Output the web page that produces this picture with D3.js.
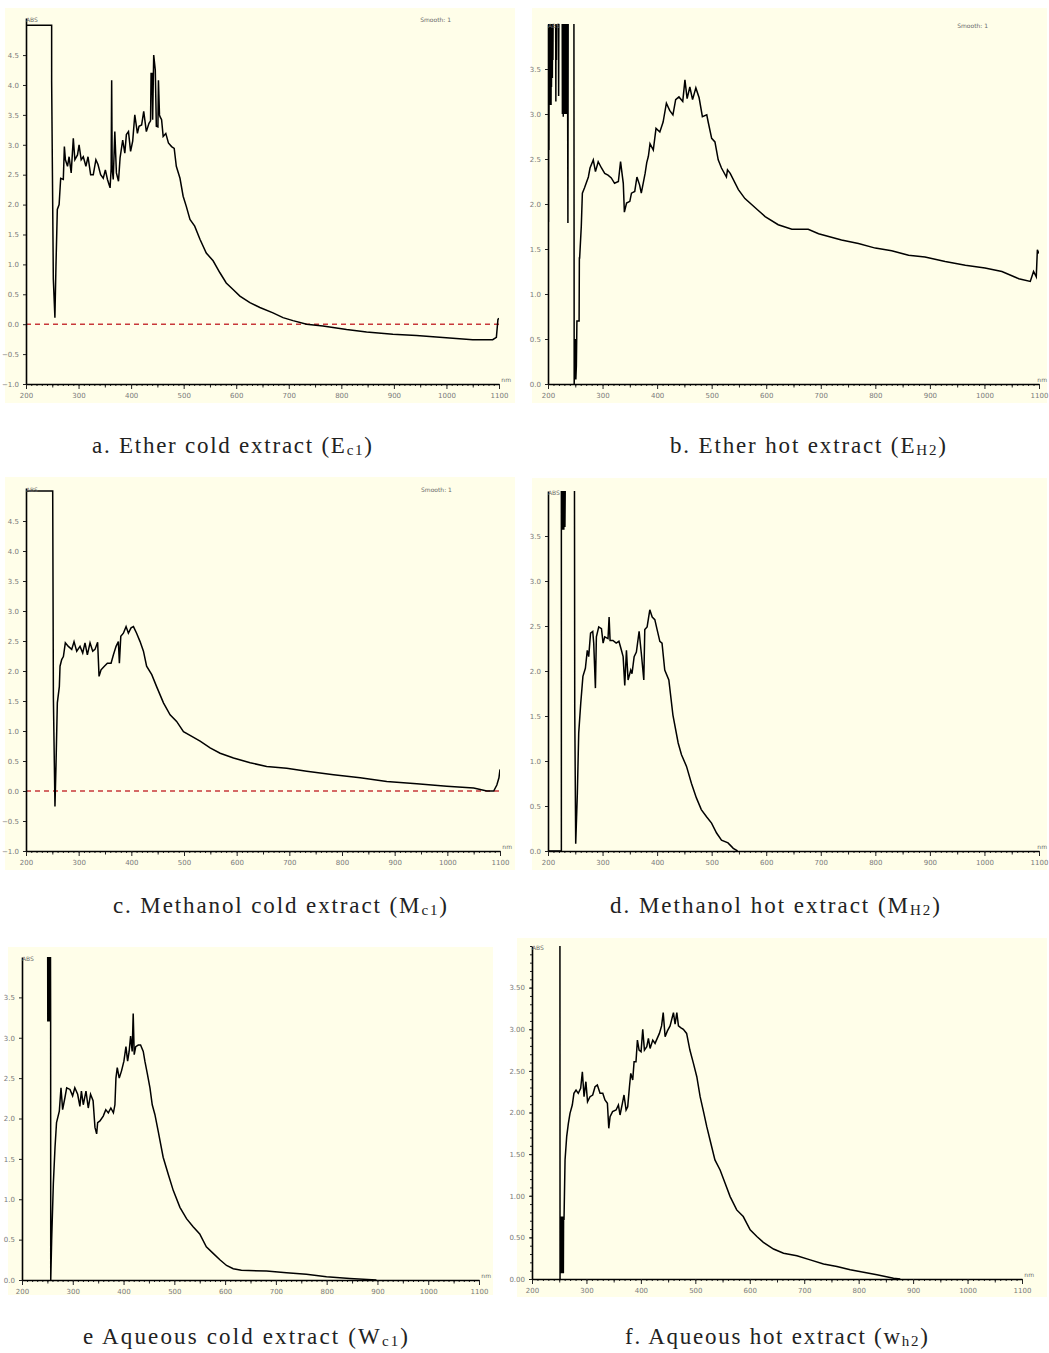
<!DOCTYPE html>
<html>
<head>
<meta charset="utf-8">
<script src="https://d3js.org/d3.v7.min.js"></script>
<style>
  body { margin: 0; background: #fff; }
</style>
</head>
<body>
<svg width="1049" height="1353"></svg>

<script>
// absorbance spectra: [wavelength nm, ABS]
var etherCold = [[200,5.0],[248.8,5.0],[248.8,4.06],[252,0.75],[255,0.11],[257,0.97],[259.6,1.92],[263,2.0],[266,2.44],[271,2.42],[273,2.97],[275,2.75],[279,2.64],[282,2.8],[286,2.53],[290,3.11],[293,2.75],[298,2.83],[301,3.0],[305,2.75],[309,2.8],[314,2.64],[318,2.8],[323,2.5],[328,2.5],[333,2.75],[337,2.67],[342,2.5],[347,2.44],[351,2.58],[355,2.42],[360,2.28],[362,2.6],[363,4.08],[364,2.6],[366,2.42],[369,3.22],[372,2.53],[376,2.39],[379,2.78],[384,3.08],[388,2.86],[391,3.17],[395,3.22],[399,2.89],[403,3.06],[407,3.5],[412,3.19],[415,3.31],[420,3.33],[424,3.56],[429,3.22],[434,3.36],[437,3.4],[438,4.19],[440,4.19],[441,3.42],[443,4.5],[446,4.25],[448,3.31],[451,3.3],[452,4.08],[454,3.5],[455,3.47],[458,3.42],[461,3.14],[466,3.19],[471,3.03],[477,2.97],[482,2.94],[486,2.64],[493,2.44],[499,2.14],[505,1.97],[512,1.75],[521,1.64],[531,1.42],[543,1.19],[556,1.06],[569,0.86],[581,0.69],[594,0.58],[607,0.47],[626,0.36],[645,0.28],[670,0.19],[689,0.11],[708,0.06],[734,0.0],[765,-0.03],[810,-0.09],[848,-0.13],[898,-0.17],[943,-0.19],[987,-0.22],[1050,-0.26],[1088,-0.26],[1095,-0.22],[1098,0.08],[1100,0.1]];

var etherHot = [[200,1.3],[200.4,4.2],[200.8,1.8],[201.2,4.2],[201.6,2.6],[202,4.2],[202.4,3.1],[202.8,4.2],[203.2,3.2],[203.6,4.2],[204,3.1],[204.4,4.2],[204.8,3.3],[205.2,4.2],[205.6,3.1],[206,4.2],[206.4,3.3],[206.8,4.2],[207.2,3.5],[207.6,4.2],[208,3.4],[208.4,4.2],[209,3.6],[209.5,4.2],[214,4.2],[214.4,3.14],[214.8,4.2],[215.5,3.6],[216,4.2],[219,4.2],[219.5,3.2],[220,4.2],[226,4.2],[226.4,3.0],[226.8,4.2],[227.2,3.1],[227.6,4.2],[228,2.97],[228.4,4.2],[228.8,3.2],[229.2,4.2],[229.6,3.0],[230,4.2],[230.4,3.1],[230.8,4.2],[231.2,3.0],[231.6,4.2],[232,3.2],[232.4,4.2],[232.8,3.0],[233.2,4.2],[233.6,3.1],[234,4.2],[234.4,3.0],[234.8,4.2],[235.2,3.05],[235.6,4.2],[236.5,1.79],[237,4.2],[247.5,4.2],[248,0.0],[250,0.5],[251,0.05],[252,0.2],[253,0.7],[257,0.7],[257.5,1.4],[258,1.4],[261,1.75],[263,2.12],[267,2.18],[274,2.3],[277,2.4],[283,2.49],[287,2.36],[292,2.47],[298,2.4],[304,2.34],[310,2.32],[316,2.29],[322,2.23],[329,2.25],[333,2.47],[338,2.23],[340,1.91],[344,2.01],[350,2.03],[353,2.12],[359,2.14],[363,2.3],[368,2.21],[371,2.12],[378,2.34],[381,2.46],[384,2.53],[387,2.67],[393,2.6],[398,2.84],[405,2.8],[411,2.91],[417,3.12],[423,3.04],[429,2.99],[434,3.16],[440,3.19],[447,3.14],[451,3.38],[455,3.17],[460,3.3],[465,3.16],[471,3.29],[477,3.18],[483,2.97],[491,2.99],[494,2.9],[500,2.73],[506,2.69],[512,2.49],[518,2.4],[527,2.3],[529,2.38],[534,2.34],[549,2.16],[561,2.06],[585,1.93],[598,1.86],[622,1.77],[647,1.72],[677,1.72],[696,1.67],[738,1.6],[769,1.56],[800,1.51],[830,1.48],[861,1.43],[891,1.41],[928,1.36],[965,1.32],[1001,1.29],[1032,1.25],[1063,1.17],[1084,1.14],[1090,1.25],[1095,1.19],[1097,1.49],[1100,1.45]];

var methanolCold = [[200,5.0],[250.7,5.0],[252,1.55],[255,-0.26],[257,0.44],[259.5,1.47],[263.3,1.74],[264.6,2.08],[267.8,2.19],[271,2.24],[274.7,2.47],[280.4,2.41],[286.8,2.36],[291.2,2.49],[296.3,2.33],[302.6,2.41],[307.7,2.3],[312,2.47],[316.5,2.27],[321.6,2.47],[326.7,2.33],[331,2.36],[336,2.48],[338.7,1.91],[342.5,2.02],[348.8,2.08],[354.5,2.13],[361.5,2.13],[366,2.27],[371,2.41],[375.4,2.49],[377.3,2.13],[380,2.58],[384.9,2.63],[390,2.74],[394.4,2.63],[399.5,2.72],[404,2.74],[410,2.63],[416.6,2.49],[423,2.33],[429,2.08],[438.8,1.94],[448,1.74],[461,1.47],[473.6,1.27],[486,1.16],[499,0.99],[514.8,0.91],[530.6,0.83],[549.6,0.72],[568.6,0.63],[594,0.55],[625.6,0.47],[657,0.41],[695,0.38],[733,0.33],[784,0.27],[834.6,0.22],[885,0.16],[942,0.12],[999,0.08],[1050,0.05],[1075,0.0],[1088,0.0],[1094,0.1],[1098,0.22],[1100,0.36]];

var methanolHot = [[200,0.0],[224.5,0.0],[224.5,4.2],[225,3.57],[225.5,4.2],[226,3.6],[226.5,4.2],[227,3.57],[227.5,4.2],[228,3.6],[228.5,4.2],[229,3.57],[229.5,4.2],[230,3.6],[230.5,4.2],[231,3.6],[231.8,4.2],[248.5,4.2],[249,1.59],[250.8,0.08],[253.8,0.64],[256.3,1.31],[260,1.64],[264,1.94],[268.5,2.03],[272,2.23],[274.6,2.16],[278,2.42],[282,2.44],[283.8,2.31],[286.9,1.81],[288.7,2.38],[293,2.49],[298,2.47],[301,2.31],[304,2.38],[310,2.36],[312,2.6],[313.8,2.34],[319,2.34],[325,2.31],[330,2.33],[334.6,2.23],[337.7,2.16],[340.7,1.84],[343.8,2.23],[346.8,1.9],[351.7,2.01],[354,1.97],[357.9,2.16],[362,2.21],[367,2.44],[371,2.2],[375.6,1.9],[377.4,2.46],[381.7,2.49],[386.6,2.68],[391,2.6],[395.8,2.57],[400,2.46],[405,2.33],[409,2.31],[414,2.01],[421.5,1.9],[429,1.51],[438.6,1.2],[444.7,1.07],[453.9,0.94],[463,0.75],[472,0.59],[481,0.46],[490.6,0.38],[499.8,0.31],[509,0.2],[518,0.12],[530,0.09],[539.6,0.03],[547.5,0.0]];

var aqueousCold = [[200,4.3],[250.5,4.3],[250.8,3.2],[251.2,4.3],[251.6,3.2],[252,4.3],[252.4,3.3],[252.8,4.3],[253.2,3.2],[253.6,4.3],[254,3.25],[254.4,4.3],[254.8,3.2],[255.2,4.3],[255.6,3.2],[256,4.3],[256.4,3.2],[256.6,0.0],[258.4,0.49],[261.7,1.19],[265,1.64],[268,1.95],[273.5,2.09],[276.8,2.38],[280,2.11],[284.6,2.26],[288,2.38],[294.5,2.36],[299.7,2.28],[304,2.38],[309.6,2.3],[314,2.15],[317,2.34],[320.7,2.17],[326,2.34],[330.5,2.13],[335,2.3],[340,2.22],[343.7,1.89],[347,1.81],[349,1.95],[353.5,1.97],[360,2.03],[365,2.11],[370,2.07],[375,2.13],[380,2.07],[383,2.17],[385,2.5],[387.6,2.63],[391.5,2.5],[396,2.59],[400.7,2.71],[404.7,2.89],[408,2.71],[411,2.83],[413.9,3.02],[417,2.83],[419,3.3],[421,2.79],[424,2.89],[429,2.91],[433.5,2.91],[438.8,2.83],[442,2.71],[446.7,2.56],[452,2.38],[456.5,2.17],[461.7,2.05],[468,1.85],[478,1.52],[488,1.31],[497.8,1.11],[511,0.9],[524,0.76],[537,0.66],[550,0.57],[563,0.41],[576.5,0.33],[589.7,0.25],[602.8,0.18],[616,0.14],[632,0.12],[681.5,0.11],[720.9,0.09],[760,0.07],[799.6,0.04],[845.5,0.02],[898,0.0]];

var aqueousHot = [[200,4.3],[251.3,4.3],[251.5,0.0],[252,0.75],[252.5,0.07],[253,0.75],[253.5,0.07],[254,0.75],[254.5,0.1],[255,0.72],[255.5,0.07],[256,0.75],[256.5,0.1],[257,0.75],[257.6,0.07],[258,0.72],[258.8,0.71],[260.7,1.43],[263.7,1.71],[266.8,1.87],[269.8,1.99],[274,2.09],[277,2.23],[280.9,2.27],[285,2.23],[289.4,2.29],[292.5,2.49],[295.6,2.19],[299,2.37],[302,2.13],[306.6,2.19],[311.5,2.21],[315.8,2.31],[320,2.33],[325,2.23],[330,2.23],[334,2.15],[338.5,2.11],[341,1.81],[343.4,1.95],[348,2.01],[354.4,2.03],[358.7,2.09],[361.7,1.97],[366,2.11],[369,2.21],[372.8,2.03],[375.8,2.07],[379,2.31],[381.4,2.47],[385,2.39],[387.5,2.61],[391,2.61],[393.6,2.87],[396.7,2.75],[400.3,2.73],[403.4,3.0],[406.5,2.75],[410.8,2.79],[413.8,2.89],[416.9,2.77],[421.8,2.87],[426,2.83],[430,2.89],[434,2.95],[438,3.04],[441,3.2],[444.5,2.91],[448.7,2.98],[453.6,3.04],[459.8,3.2],[462.8,3.06],[466,3.2],[469,3.04],[473,3.02],[478,3.0],[484,2.95],[490,2.75],[496.5,2.59],[502.7,2.43],[508.8,2.19],[515,2.01],[521,1.83],[527,1.67],[536,1.43],[545.5,1.31],[554.7,1.15],[563.9,0.99],[576,0.83],[588,0.75],[600.7,0.59],[613,0.51],[625,0.44],[643.6,0.36],[662,0.31],[686.5,0.28],[711,0.23],[735.5,0.18],[760,0.15],[784.5,0.11],[809,0.08],[833.5,0.05],[864,0.01],[876.4,0.0]];

// tick labels
var xTicks = [200, 300, 400, 500, 600, 700, 800, 900, 1000, 1100];
var yTicksWide = [-1.0, -0.5, 0.0, 0.5, 1.0, 1.5, 2.0, 2.5, 3.0, 3.5, 4.0, 4.5];
var yTicksNarrow = [0.0, 0.5, 1.0, 1.5, 2.0, 2.5, 3.0, 3.5];

// captions: [main text, subscript]
var captionText = [
  ["a. Ether cold extract (E", "c1"],
  ["b. Ether hot extract (E", "H2"],
  ["c. Methanol cold extract (M", "c1"],
  ["d. Methanol hot extract (M", "H2"],
  ["e Aqueous cold extract (W", "c1"],
  ["f. Aqueous hot extract (w", "h2"]
];

var panels = [
  {data: etherCold,    bg: [5, 8, 515, 403],     xr: [26, 499],  yr: [384, 18],   yd: [-1, 5.12], yt: yTicksWide,   fmt: ".1f", zero: true,  smooth: true,  cap: [92, 453, 280]},
  {data: etherHot,     bg: [532, 8, 1047, 403],  xr: [548, 1039], yr: [384, 24],  yd: [0, 4],     yt: yTicksNarrow, fmt: ".1f", zero: false, smooth: true,  cap: [670, 453, 276]},
  {data: methanolCold, bg: [5, 477, 515, 870],   xr: [26, 500],  yr: [851, 488],  yd: [-1, 5.05], yt: yTicksWide,   fmt: ".1f", zero: true,  smooth: true,  cap: [113, 913, 334]},
  {data: methanolHot,  bg: [532, 478, 1047, 870], xr: [548, 1039], yr: [851, 491], yd: [0, 4],     yt: yTicksNarrow, fmt: ".1f", zero: false, smooth: false, cap: [610, 913, 330]},
  {data: aqueousCold,  bg: [8, 947, 493, 1295],  xr: [22, 479],  yr: [1280, 957], yd: [0, 4],     yt: yTicksNarrow, fmt: ".1f", zero: false, smooth: false, cap: [83, 1344, 325]},
  {data: aqueousHot,   bg: [517, 938, 1047, 1297], xr: [532, 1022], yr: [1279, 946], yd: [0, 4],   yt: yTicksNarrow, fmt: ".2f", zero: false, smooth: false, cap: [625, 1344, 303], yMinor: true}
];

var svg = d3.select("svg");

panels.forEach(function(p, i) {
  var g = svg.append("g");

  g.append("rect")
    .attr("x", p.bg[0]).attr("y", p.bg[1])
    .attr("width", p.bg[2] - p.bg[0]).attr("height", p.bg[3] - p.bg[1])
    .attr("fill", "#fffee9");

  var x = d3.scaleLinear().domain([200, 1100]).range(p.xr);
  var y = d3.scaleLinear().domain(p.yd).range(p.yr);

  g.append("clipPath").attr("id", "clip" + i)
    .append("rect")
    .attr("x", p.xr[0]).attr("y", p.yr[1])
    .attr("width", p.xr[1] - p.xr[0]).attr("height", p.yr[0] - p.yr[1]);

  // zero reference line
  if (p.zero) {
    g.append("line")
      .attr("x1", x(200)).attr("x2", x(1100))
      .attr("y1", y(0)).attr("y2", y(0))
      .attr("stroke", "#c8383a")
      .attr("stroke-width", 1.5)
      .attr("stroke-dasharray", "5,4");
  }

  // minor x ticks
  g.append("g")
    .attr("transform", "translate(0," + p.yr[0] + ")")
    .call(d3.axisBottom(x).tickValues(d3.range(200, 1101, 10)).tickSize(2).tickFormat(""))
    .call(function(a) { a.select(".domain").remove(); });
  g.append("g")
    .attr("transform", "translate(0," + p.yr[0] + ")")
    .call(d3.axisBottom(x).tickValues(d3.range(250, 1100, 100)).tickSize(3.5).tickFormat(""))
    .call(function(a) { a.select(".domain").remove(); });

  var xa = g.append("g")
    .attr("transform", "translate(0," + p.yr[0] + ")")
    .call(d3.axisBottom(x).tickValues(xTicks).tickSize(5).tickSizeOuter(0).tickPadding(4).tickFormat(d3.format("d")));
  xa.select(".domain").attr("stroke-width", 1.6);

  if (p.yMinor) {
    g.append("g")
      .attr("transform", "translate(" + p.xr[0] + ",0)")
      .call(d3.axisLeft(y).tickValues(d3.range(0, 4.01, 0.1)).tickSize(2).tickFormat(""))
      .call(function(a) { a.select(".domain").remove(); });
  }

  var ya = g.append("g")
    .attr("transform", "translate(" + p.xr[0] + ",0)")
    .call(d3.axisLeft(y).tickValues(p.yt).tickSize(3).tickSizeOuter(0).tickPadding(4).tickFormat(d3.format(p.fmt)));
  ya.select(".domain").attr("stroke-width", 1.6);

  g.selectAll(".tick text")
    .attr("font-family", "DejaVu Sans, sans-serif")
    .attr("font-size", 7)
    .attr("fill", "#7a7a7a");
  g.selectAll(".tick line").attr("stroke", "#222");

  // spectrum
  g.append("path")
    .datum(p.data)
    .attr("clip-path", "url(#clip" + i + ")")
    .attr("fill", "none")
    .attr("stroke", "#000")
    .attr("stroke-width", 1.5)
    .attr("stroke-linejoin", "miter")
    .attr("d", d3.line().x(function(d) { return x(d[0]); }).y(function(d) { return y(d[1]); }));

  // small instrument labels
  var small = {"font-family": "DejaVu Sans, sans-serif", "font-size": 6, "fill": "#6a6a6a"};
  var abs = g.append("text").attr("x", p.xr[0]).attr("y", p.yr[1] + 4).text("ABS");
  var nm = g.append("text")
    .attr("x", Math.min(p.xr[1] + 12, 1047)).attr("y", p.yr[0] - 2)
    .attr("text-anchor", "end").text("nm");
  var texts = [abs, nm];
  if (p.smooth) {
    texts.push(g.append("text").attr("x", x(950)).attr("y", p.yr[1] + 4).text("Smooth: 1"));
  }
  texts.forEach(function(t) {
    for (var k in small) t.attr(k, small[k]);
  });

  // caption
  var c = g.append("text")
    .attr("x", p.cap[0]).attr("y", p.cap[1])
    .attr("font-family", "Liberation Serif, Times New Roman, serif")
    .attr("font-size", 23)
    .attr("fill", "#222")
    .attr("textLength", p.cap[2])
    .attr("lengthAdjust", "spacing");
  c.append("tspan").text(captionText[i][0]);
  c.append("tspan").attr("font-size", 15).attr("dy", 2).text(captionText[i][1]);
  c.append("tspan").attr("dy", -2).text(")");
});
</script>
</body>
</html>
